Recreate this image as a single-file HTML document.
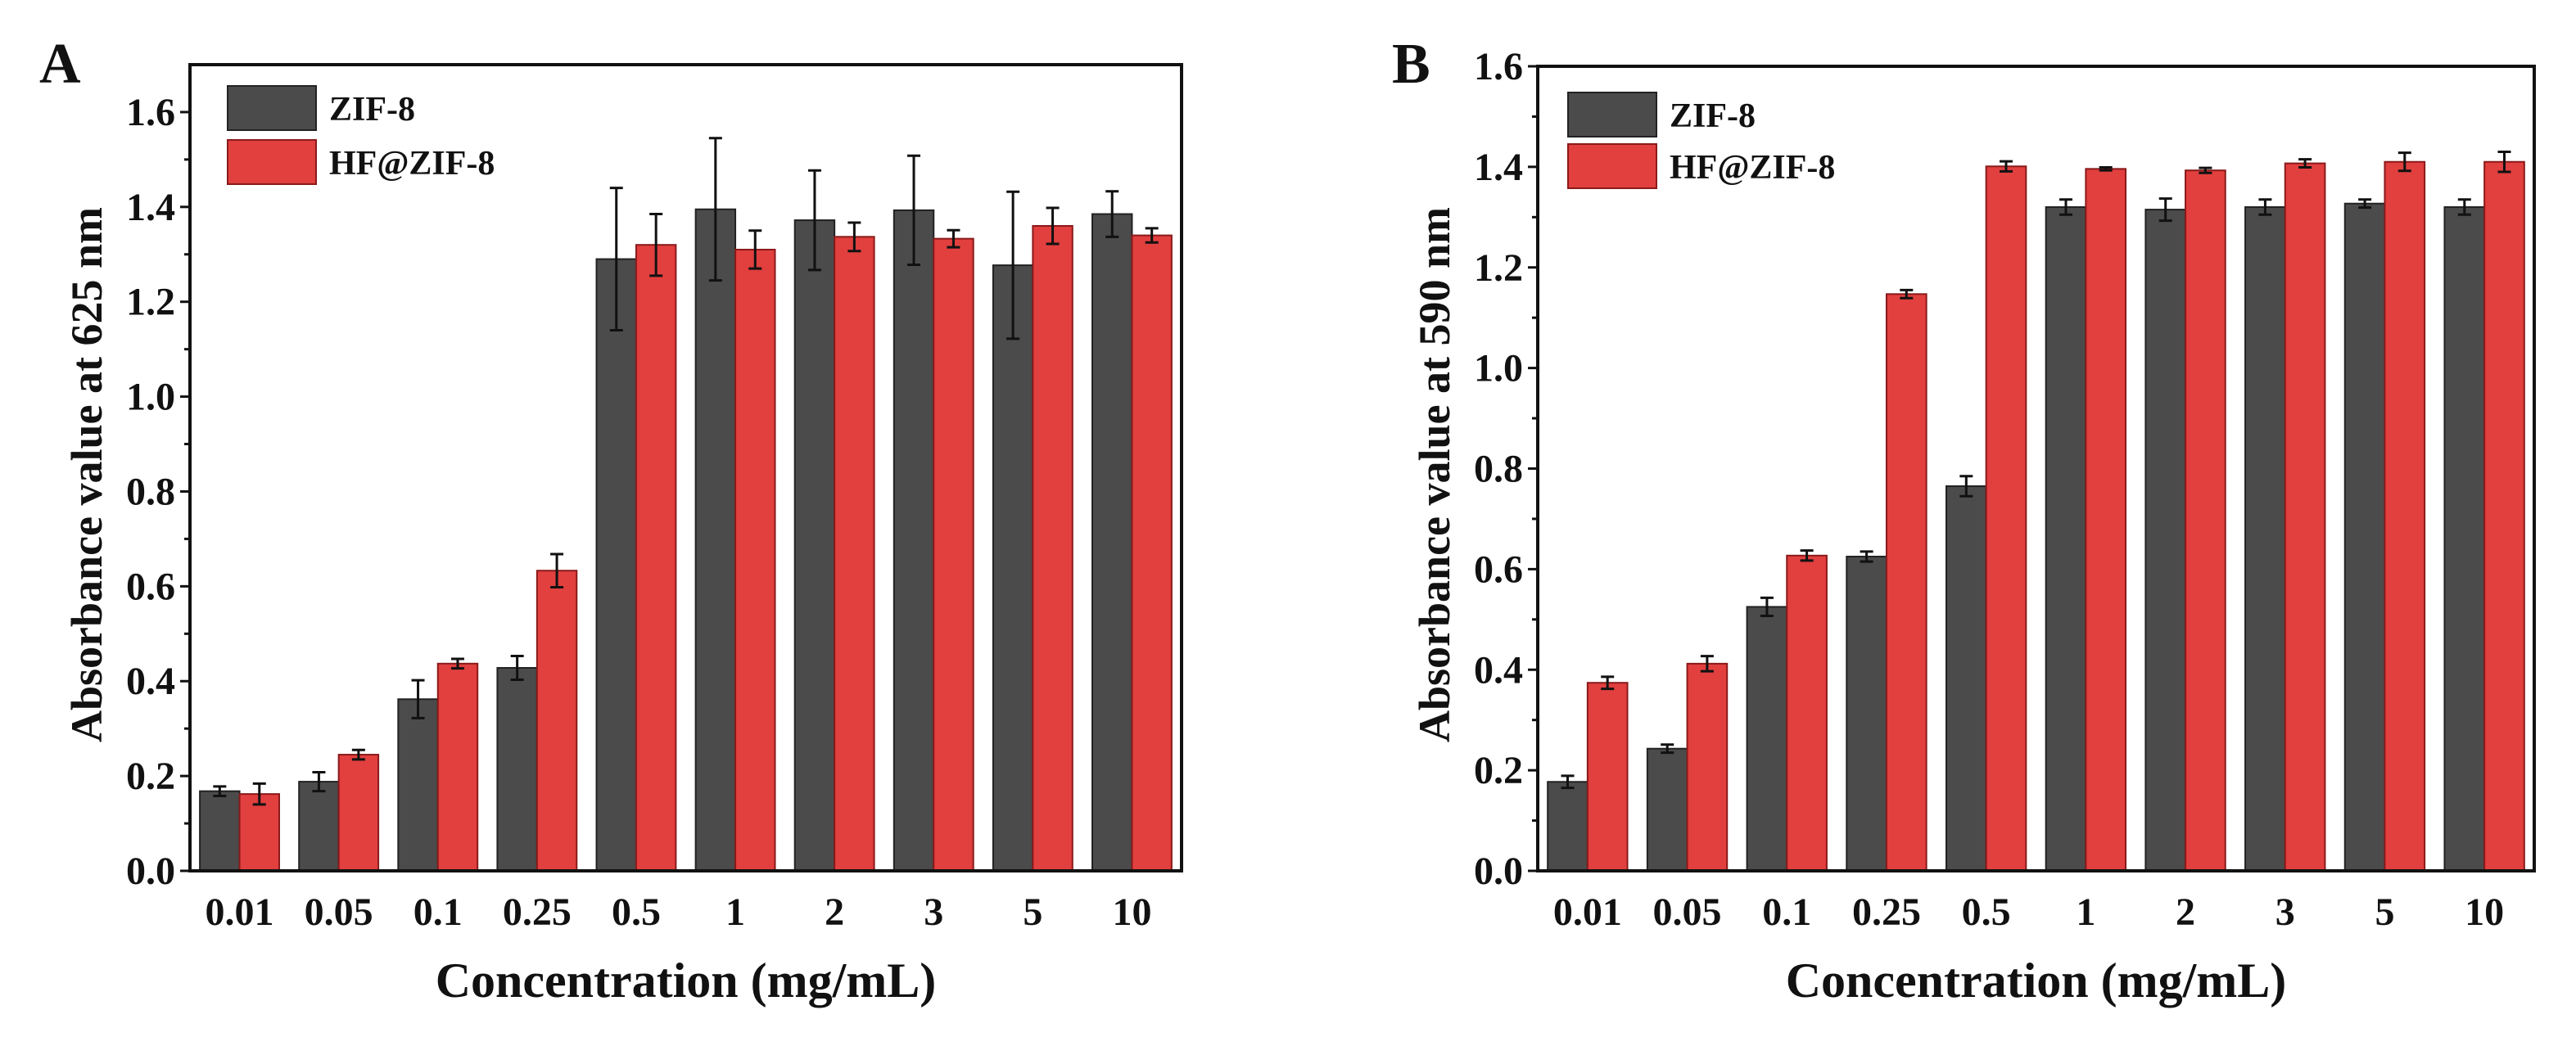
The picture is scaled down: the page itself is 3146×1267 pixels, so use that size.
<!DOCTYPE html>
<html><head><meta charset="utf-8"><style>
html,body{margin:0;padding:0;background:#fff;}
svg text{font-family:"Liberation Serif",serif;font-weight:bold;fill:#111;}
</style></head><body>
<svg id="fig" width="3146" height="1262" xmlns="http://www.w3.org/2000/svg"></svg>
<script>
const categories = ["0.01","0.05","0.1","0.25","0.5","1","2","3","5","10"];
const aZif = [0.168,0.188,0.362,0.428,1.29,1.395,1.372,1.393,1.277,1.385];
const aZifErr = [0.01,0.02,0.04,0.025,0.15,0.15,0.105,0.115,0.155,0.048];
const aHf = [0.162,0.245,0.437,0.633,1.32,1.31,1.337,1.333,1.36,1.34];
const aHfErr = [0.022,0.01,0.01,0.035,0.065,0.04,0.03,0.018,0.038,0.015];
const bZif = [0.177,0.243,0.525,0.625,0.765,1.32,1.315,1.32,1.327,1.32];
const bZifErr = [0.012,0.008,0.018,0.01,0.02,0.015,0.022,0.015,0.008,0.015];
const bHf = [0.374,0.412,0.627,1.147,1.401,1.396,1.393,1.407,1.41,1.41];
const bHfErr = [0.012,0.015,0.01,0.008,0.01,0.003,0.005,0.008,0.018,0.02];
const yTicks = ["0.0","0.2","0.4","0.6","0.8","1.0","1.2","1.4","1.6"];
const seriesNames = ["ZIF-8","HF@ZIF-8"];

const NS="http://www.w3.org/2000/svg";
const svg=document.getElementById('fig');
function mk(tag,attrs,parent){const e=document.createElementNS(NS,tag);for(const k in attrs)e.setAttribute(k,attrs[k]);(parent||svg).appendChild(e);return e;}

function panel(p){
  const g=mk('g',{});
  
  
  const y=v=>p.y0-(v/p.ymax)*(p.y0-p.y1);
  const step=(p.x1-p.x0)/categories.length;
  const xc=i=>p.x0+step*(i+0.5);
  const bw=step*0.4;
  [[p.s1,p.e1,'#4b4b4b','#222',-1],[p.s2,p.e2,'#e23f3f','#8a1a1a',0]].forEach((s,si)=>{
    s[0].forEach((v,i)=>{
      const bx=xc(i)+s[4]*bw;
      const r=mk('rect',{x:bx,y:y(v),width:bw,height:p.y0-y(v),fill:s[2],stroke:s[3],'stroke-width':2},g);
      
      
      const cx=bx+bw/2, t=y(v+s[1][i]), b=y(v-s[1][i]);
      const eb=mk('path',{d:`M${cx},${t}V${b}M${cx-8},${t}H${cx+8}M${cx-8},${b}H${cx+8}`,stroke:'#111','stroke-width':3,fill:'none'},g);
      
      
    });
  });
  const fr=mk('rect',{x:p.x0,y:p.y1,width:p.x1-p.x0,height:p.y0-p.y1,fill:'none',stroke:'#111','stroke-width':4},g);
  
  
  yTicks.forEach((t,i)=>{
    const v=parseFloat(t), yy=y(v);
    mk('line',{x1:p.x0-12,x2:p.x0,y1:yy,y2:yy,stroke:'#111','stroke-width':3},g);
    const m=y(v+0.1);
    if(v+0.1<=p.ymax) mk('line',{x1:p.x0-7,x2:p.x0,y1:m,y2:m,stroke:'#111','stroke-width':3},g);
    const tx=mk('text',{x:p.x0-18,y:yy+16,'text-anchor':'end','font-size':48},g);
    tx.textContent=t;
    
    
  });
  categories.forEach((c,i)=>{
    const tx=mk('text',{x:xc(i),y:1130,'text-anchor':'middle','font-size':48},g);
    tx.textContent=c;
    
    
  });
  const xt=mk('text',{x:(p.x0+p.x1)/2,y:1218,'text-anchor':'middle','font-size':60},g);
  xt.textContent='Concentration (mg/mL)';
  
  
  const yt=mk('text',{x:0,y:0,'text-anchor':'middle','font-size':54,transform:`translate(${p.ytx},580) rotate(-90)`},g);
  yt.textContent=p.ytitle;
  
  
  const lt=mk('text',{x:p.lx,y:101,'font-size':70},g);
  lt.textContent=p.id;
  
  
  [['#4b4b4b','#222'],['#e23f3f','#8a1a1a']].forEach((c,i)=>{
    const by=p.ly+i*p.lgap;
    const r=mk('rect',{x:p.lgx,y:by,width:108,height:54,fill:c[0],stroke:c[1],'stroke-width':2},g);
    
    
    const t=mk('text',{x:p.lgx+124,y:by+42,'font-size':42},g);
    t.textContent=seriesNames[i];
    
    
  });
}
panel({id:'A',x0:232,x1:1443,y0:1064,y1:79,ymax:1.7,s1:aZif,e1:aZifErr,s2:aHf,e2:aHfErr,ytx:124,ytitle:'Absorbance value at 625 nm',lx:48,lgx:278,ly:105,lgap:66});
panel({id:'B',x0:1878,x1:3095,y0:1064,y1:81,ymax:1.6,s1:bZif,e1:bZifErr,s2:bHf,e2:bHfErr,ytx:1770,ytitle:'Absorbance value at 590 nm',lx:1700,lgx:1915,ly:113,lgap:63});
</script>
</body></html>
